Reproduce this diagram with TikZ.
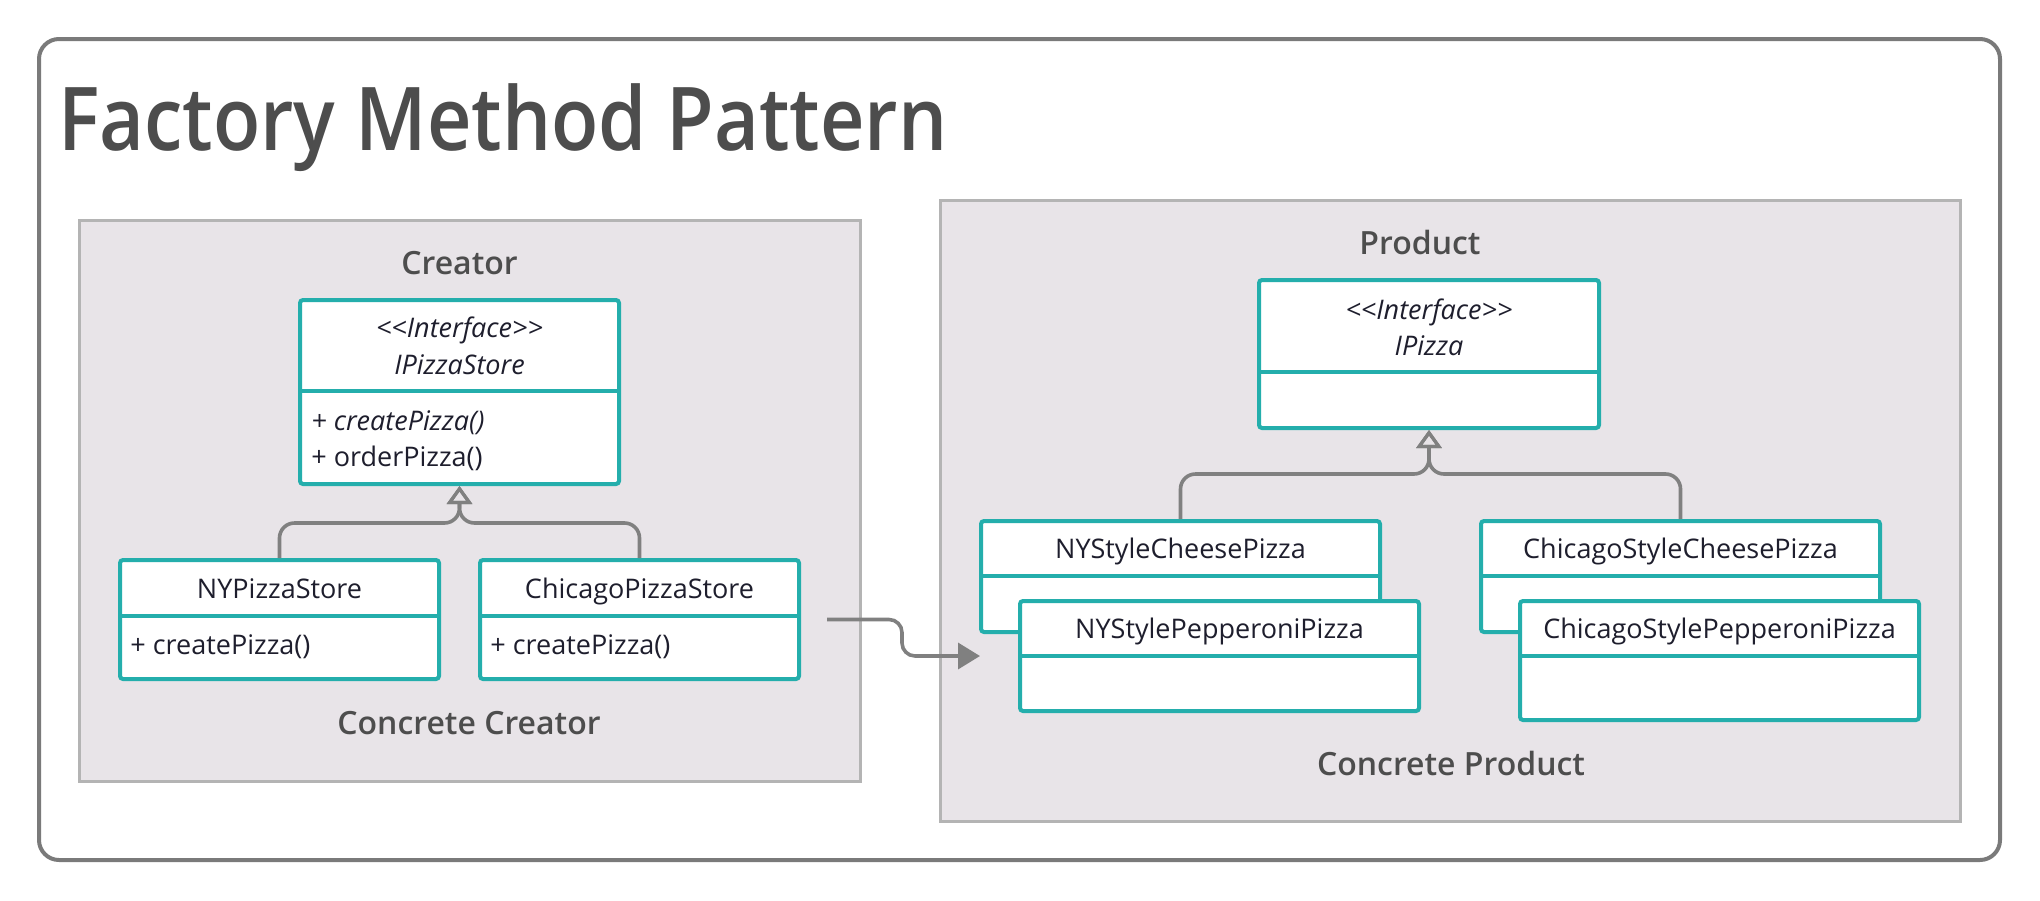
\documentclass[tikz,border=0pt]{standalone}
\usepackage{fontspec}
\setmainfont{Open Sans}
\IfFontExistsTF{Open Sans Semibold}
  {\newfontfamily\headfont{Open Sans Semibold}\newfontfamily\bigheadfont{Open Sans Semibold}[FakeStretch=0.88]}
  {\newfontfamily\headfont{Open Sans}[FakeBold=1.6]\newfontfamily\bigheadfont{Open Sans}[FakeBold=1.6, FakeStretch=0.92]}
\usetikzlibrary{arrows.meta,fit}
\definecolor{clsteal}{RGB}{36,174,172}
\definecolor{panelfill}{RGB}{232,228,232}
\definecolor{panelline}{RGB}{180,180,180}
\definecolor{framegray}{RGB}{122,122,122}
\definecolor{inkgray}{RGB}{77,77,77}
\definecolor{linkgray}{RGB}{128,128,128}
\definecolor{clsink}{RGB}{30,30,45}
\tikzset{
  frame/.style={draw=framegray, line width=2pt, rounded corners=10pt},
  panel/.style={fill=panelfill, draw=panelline, line width=1.5pt},
  title/.style={font=\bigheadfont\fontsize{44}{52}\selectfont, text=inkgray, inner sep=0pt},
  paneltitle/.style={font=\headfont\fontsize{16}{19}\selectfont, text=inkgray, inner sep=0pt, text height=11.4pt, text depth=0pt},
  cls/.style={draw=clsteal, fill=white, line width=2pt, rounded corners=1.5pt, inner sep=0pt},
  divider/.style={draw=clsteal, line width=2pt},
  clstext/.style={font=\fontsize{13.5}{16}\selectfont, text=clsink, inner sep=0pt, text height=9.6pt, text depth=0pt},
  clsitalic/.style={clstext, font=\fontsize{13.5}{16}\selectfont\itshape},
  inherit/.style={draw=linkgray, line width=1.8pt, rounded corners=7.5pt,
    -{Triangle[open, length=9pt, width=12.5pt, line width=1.6pt]}},
  assoc/.style={draw=linkgray, line width=1.8pt, rounded corners=6.5pt,
    -{Triangle[length=11pt, width=13pt]}},
}
\begin{document}
\begin{tikzpicture}[x=0.5pt, y=-0.5pt]
\useasboundingbox (0,0) rectangle (2040,900);
% outer frame and title
\draw[frame] (39,39) rectangle (2000,860);
\node[title, anchor=base west] (title) at (58,150) {Factory Method Pattern};
% creator side
\draw[panel] (79,220) rectangle (860,781);
\node[paneltitle] (creatorlbl) at (459.5,263) {Creator};
\node[paneltitle] (ccreatorlbl) at (469,723) {Concrete Creator};
\node[cls, fit={(300,300) (619,484)}] (ips) {};
\coordinate (ipsdiv) at (0,391);
\draw[divider] (ips.west |- ipsdiv) -- (ips.east |- ipsdiv);
\node[clsitalic] (ipsstereo) at (459.5,328) {{<}{<}Interface{>}{>}};
\node[clsitalic] (ipsname) at (459.5,365) {IPizzaStore};
\node[clsitalic, anchor=west] (ipscreate) at (311,421) {+ createPizza()};
\node[clstext, anchor=west] (ipsorder) at (311,457) {+ orderPizza()};
\node[cls, fit={(120,560) (439,679)}] (nyps) {};
\node[cls, fit={(480,560) (799,679)}] (cps) {};
\coordinate (psdiv) at (0,616);
\foreach \b in {nyps,cps}
  {\draw[divider] (\b.west |- psdiv) -- (\b.east |- psdiv);}
\node[clstext] (nypsname) at (279.5,589) {NYPizzaStore};
\node[clstext, anchor=west] (nypscreate) at (130,645) {+ createPizza()};
\node[clstext] (cpsname) at (639.5,589) {ChicagoPizzaStore};
\node[clstext, anchor=west] (cpscreate) at (490,645) {+ createPizza()};
\coordinate (cjoin) at (459.5,523);
\draw[inherit] (nyps.north) |- (cjoin) -- (ips.south);
\draw[inherit] (cps.north) |- (cjoin) -- (ips.south);
% product side
\draw[panel] (940,200) rectangle (1960,821);
\node[paneltitle] (productlbl) at (1420,243) {Product};
\node[paneltitle] (cproductlbl) at (1451,764) {Concrete Product};
\node[cls, fit={(1259,280) (1599,428)}] (ipz) {};
\coordinate (ipzdiv) at (0,372);
\draw[divider] (ipz.west |- ipzdiv) -- (ipz.east |- ipzdiv);
\node[clsitalic] (ipzstereo) at (1429,310) {{<}{<}Interface{>}{>}};
\node[clsitalic] (ipzname) at (1429,346) {IPizza};
\node[cls, fit={(981,521) (1380,632)}] (nyc) {};
\node[cls, fit={(1481,521) (1880,632)}] (chc) {};
\coordinate (cheesediv) at (0,576);
\foreach \b in {nyc,chc}
  {\draw[divider] (\b.west |- cheesediv) -- (\b.east |- cheesediv);}
\node[clstext] (nycname) at (1180.5,549) {NYStyleCheesePizza};
\node[clstext] (chcname) at (1680.5,549) {ChicagoStyleCheesePizza};
\node[cls, fit={(1020,601) (1419,711)}] (nyp) {};
\node[cls, fit={(1520,601) (1919,720)}] (chp) {};
\coordinate (pepdiv) at (0,656);
\foreach \b in {nyp,chp}
  {\draw[divider] (\b.west |- pepdiv) -- (\b.east |- pepdiv);}
\node[clstext] (nypname) at (1219.5,629) {NYStylePepperoniPizza};
\node[clstext] (chpname) at (1719.5,629) {ChicagoStylePepperoniPizza};
\coordinate (pjoin) at (1429,474);
\draw[inherit] (nyc.north) |- (pjoin) -- (ipz.south);
\draw[inherit] (chc.north) |- (pjoin) -- (ipz.south);
% creator uses product
\coordinate (abend) at (902,0);
\draw[assoc, shorten <=13pt, shorten >=19pt] (cps.east) -- (cps.east -| abend) |- (nyp.west);
\end{tikzpicture}
\end{document}
